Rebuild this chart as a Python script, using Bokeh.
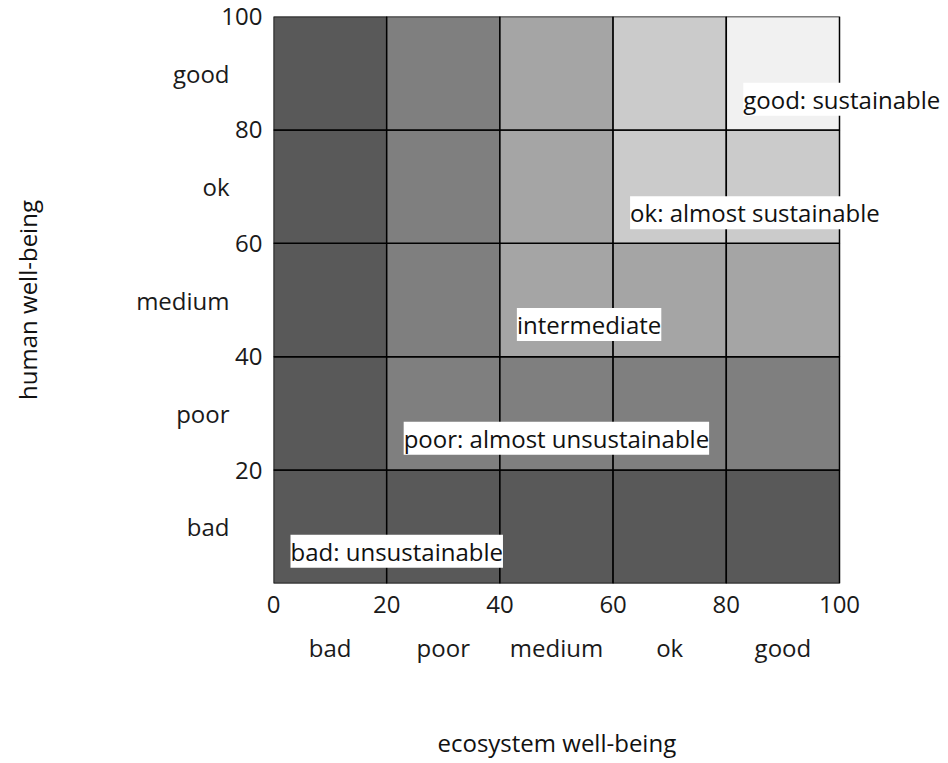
from bokeh.plotting import figure
from bokeh.models import ColumnDataSource, LinearAxis, FixedTicker, LabelSet, Title
from bokeh.core.properties import value
from bokeh.embed import file_html
from bokeh.resources import INLINE

# ---- data ----
categories = ["bad", "poor", "medium", "ok", "good"]
edges = [0, 20, 40, 60, 80, 100]
x_number_ticks = [0, 20, 40, 60, 80, 100]
y_number_ticks = [20, 40, 60, 80, 100]
category_ticks = [10, 30, 50, 70, 90]
# level index (0=bad .. 4=good) of each cell, rows = human well-being (bottom->top),
# columns = ecosystem well-being (left->right)
cell_levels = [
    [0, 0, 0, 0, 0],
    [0, 1, 1, 1, 1],
    [0, 1, 2, 2, 2],
    [0, 1, 2, 3, 3],
    [0, 1, 2, 3, 4],
]
level_colors = ["#595959", "#7f7f7f", "#a5a5a5", "#cbcbcb", "#f1f1f1"]
zone_labels = ["bad: unsustainable", "poor: almost unsustainable", "intermediate",
               "ok: almost sustainable", "good: sustainable"]
zone_x = [3, 23, 43, 63, 83]
zone_y = [5.7, 25.6, 45.7, 65.4, 85.4]

FONT = "Open Sans"
FS = "24px"

left, right, bottom, top, color = [], [], [], [], []
for r, row in enumerate(cell_levels):
    for c, lev in enumerate(row):
        left.append(edges[c]); right.append(edges[c + 1])
        bottom.append(edges[r]); top.append(edges[r + 1])
        color.append(level_colors[lev])
cells = ColumnDataSource(dict(left=left, right=right, bottom=bottom, top=top, color=color))

# frame extends to the right of the grid so the outer zone label is not clipped
p = figure(frame_width=671, frame_height=567, x_range=(0, 100 * 671 / 566), y_range=(0, 100),
           output_backend="svg", toolbar_location=None, x_axis_location=None,
           y_axis_location=None, min_border_left=273, min_border_right=0,
           min_border_top=16, min_border_bottom=150)
p.xgrid.visible = False
p.ygrid.visible = False
p.outline_line_color = None
p.background_fill_color = "white"
p.border_fill_color = "white"

p.quad(left="left", right="right", bottom="bottom", top="top", fill_color="color",
       line_color="black", line_width=1.5, source=cells)


def style_axis(ax):
    ax.axis_line_color = None
    ax.major_tick_line_color = None
    ax.minor_tick_line_color = None
    ax.major_tick_out = 0
    ax.major_tick_in = 0
    ax.major_label_text_font = FONT
    ax.major_label_text_font_size = FS
    ax.major_label_text_color = "#1a1a1a"
    ax.axis_label_text_font = FONT
    ax.axis_label_text_font_size = FS
    ax.axis_label_text_font_style = "normal"
    ax.axis_label_text_color = "#111111"


xnum = LinearAxis(ticker=FixedTicker(ticks=x_number_ticks))
style_axis(xnum)
xnum.major_label_standoff = 12
p.add_layout(xnum, "below")

xcat = LinearAxis(ticker=FixedTicker(ticks=category_ticks),
                  major_label_overrides={t: c for t, c in zip(category_ticks, categories)})
style_axis(xcat)
xcat.major_label_standoff = 15
p.add_layout(xcat, "below")

xtitle = Title(text="ecosystem well-being", align="left", offset=164, standoff=115,
               text_font=FONT, text_font_size=FS, text_font_style="normal",
               text_color="#111111")
p.add_layout(xtitle, "below")

ynum = LinearAxis(ticker=FixedTicker(ticks=y_number_ticks))
style_axis(ynum)
ynum.major_label_standoff = 11
p.add_layout(ynum, "left")

ycat = LinearAxis(ticker=FixedTicker(ticks=category_ticks),
                  major_label_overrides={t: c for t, c in zip(category_ticks, categories)},
                  axis_label="human well-being")
style_axis(ycat)
ycat.major_label_standoff = -11
ycat.axis_label_standoff = 89
p.add_layout(ycat, "left")

zsrc = ColumnDataSource(dict(x=zone_x, y=zone_y, text=zone_labels))
zones = LabelSet(x="x", y="y", text="text", source=zsrc, text_align="left",
                 text_baseline="middle", text_font=value(FONT), text_font_size=value(FS),
                 text_color="#111111", background_fill_color="white")
p.add_layout(zones)

open("out.html", "w").write(file_html(p, INLINE))
